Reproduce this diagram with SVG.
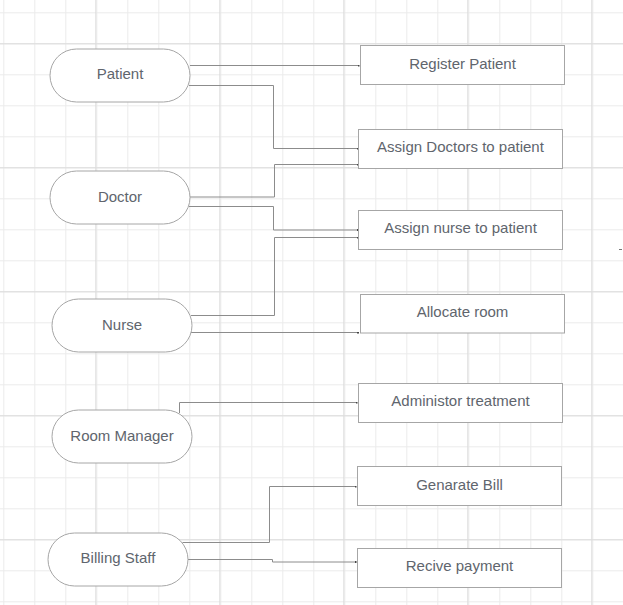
<svg xmlns="http://www.w3.org/2000/svg" width="623" height="605" viewBox="0 0 623 605">
<defs>
<pattern id="minor" x="3.3" y="12.3" width="31" height="31" patternUnits="userSpaceOnUse">
<path d="M0.5 0V31M0 0.5H31" stroke="#ebebeb" stroke-width="1" fill="none"/>
</pattern>
<pattern id="major" x="95.3" y="43.3" width="124" height="124" patternUnits="userSpaceOnUse">
<path d="M0.5 0V124M0 0.5H124" stroke="#dcdcdc" stroke-width="1" fill="none"/>
</pattern>
<marker id="dot" markerWidth="2" markerHeight="2" refX="1.5" refY="1" orient="auto" markerUnits="userSpaceOnUse">
<rect width="2" height="2" fill="#444"/>
</marker>
</defs>
<style>
.actor{fill:#fff;stroke:#a6a6a6;stroke-width:1}
.task{fill:#fff;stroke:#a6a6a6;stroke-width:1}
.lbl{font-family:"Liberation Sans",Arial,sans-serif;font-size:15px;fill:#60656d;text-anchor:middle}
.conn{fill:none;stroke:#8c8c8c;stroke-width:1;marker-end:url(#dot)}
</style>
<rect width="623" height="605" fill="#fff"/>
<rect width="623" height="605" fill="url(#minor)"/>
<rect width="623" height="605" fill="url(#major)"/>

<g id="connectors">
<path class="conn" d="M190 65.5H359"/>
<path class="conn" d="M189 85.5H273.5V148.5H358"/>
<path class="conn" d="M190 197H274.5V164.5H358"/>
<path class="conn" d="M189 206.5H273.5V230H358"/>
<path class="conn" d="M191 315.5H274.5V237.5H358"/>
<path class="conn" d="M191 332.5H358.5"/>
<path class="conn" d="M179.5 413V402.5H357"/>
<path class="conn" d="M182.5 542.5H269.5V486.5H356"/>
<path class="conn" d="M188 559.5H272.5V562H356"/>
<path d="M619 249.5H622" stroke="#777" stroke-width="1"/>
</g>

<g id="patient"><rect class="actor" x="50" y="49" width="140" height="53" rx="26.5"/><text class="lbl" x="120" y="79.3">Patient</text></g>
<g id="doctor"><rect class="actor" x="50" y="171" width="140" height="53" rx="26.5"/><text class="lbl" x="120" y="202">Doctor</text></g>
<g id="nurse"><rect class="actor" x="52" y="299" width="140" height="53" rx="26.5"/><text class="lbl" x="122" y="330">Nurse</text></g>
<g id="room-manager"><rect class="actor" x="52" y="410" width="140" height="53" rx="26.5"/><text class="lbl" x="122" y="440.7">Room Manager</text></g>
<g id="billing-staff"><rect class="actor" x="48" y="533" width="140" height="53" rx="26.5"/><text class="lbl" x="118" y="563.3">Billing Staff</text></g>

<g id="register-patient"><rect class="task" x="360.5" y="45.5" width="204" height="39"/><text class="lbl" x="462.5" y="69">Register Patient</text></g>
<g id="assign-doctors"><rect class="task" x="358.5" y="129.5" width="204" height="39"/><text class="lbl" x="460.5" y="152">Assign Doctors to patient</text></g>
<g id="assign-nurse"><rect class="task" x="358.5" y="210.5" width="204" height="39"/><text class="lbl" x="460.5" y="233.3">Assign nurse to patient</text></g>
<g id="allocate-room"><rect class="task" x="360.5" y="294.5" width="204" height="38.5"/><text class="lbl" x="462.5" y="317">Allocate room</text></g>
<g id="administer-treatment"><rect class="task" x="358.5" y="383.5" width="204" height="39"/><text class="lbl" x="460.5" y="406">Administor treatment</text></g>
<g id="generate-bill"><rect class="task" x="357.5" y="466.5" width="204" height="39"/><text class="lbl" x="459.5" y="490">Genarate Bill</text></g>
<g id="receive-payment"><rect class="task" x="357.5" y="548.5" width="204" height="39"/><text class="lbl" x="459.5" y="571.3">Recive payment</text></g>
</svg>
